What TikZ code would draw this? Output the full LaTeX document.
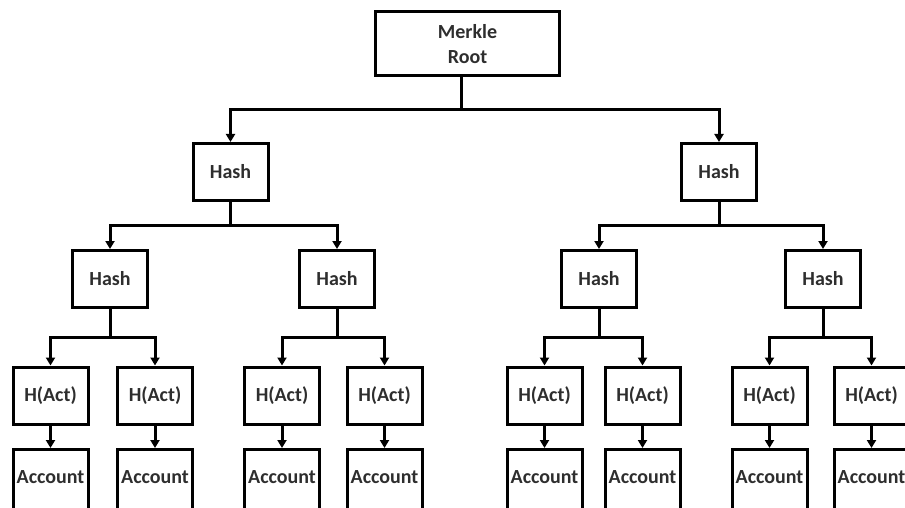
\documentclass[tikz,border=0pt]{standalone}
\usepackage{fontspec}
\setmainfont{Carlito}
\usetikzlibrary{arrows.meta,calc}
\begin{document}
\begin{tikzpicture}[x=1pt,y=-1pt,
  box/.style={draw=black,line width=3pt,rectangle,inner sep=0pt,
    minimum width=75pt,minimum height=57pt,text=black!82,
    font=\fontsize{20}{25}\selectfont\bfseries,align=center},
  rootbox/.style={box,minimum width=184pt,minimum height=64pt},
  accbox/.style={box,minimum height=80pt,text depth=25pt},
  arr/.style={line width=3pt,-{Triangle[width=9pt,length=8pt]}}]
\useasboundingbox (0,0) rectangle (905,508);
\fill[white] (0,0) rectangle (905,508);
\clip (0,0) rectangle (905,508);
% nodes
\node[rootbox] (root) at (467.5,44) {Merkle\\Root};
\node[box] (h1L) at (230.5,172) {Hash};
\node[box] (h1R) at (719,172) {Hash};
\node[box] (h2a) at (110,279) {Hash};
\node[box] (h2b) at (337,279) {Hash};
\node[box] (h2c) at (599,279) {Hash};
\node[box] (h2d) at (823,279) {Hash};
\foreach \n/\x in {1/50.5,2/155,3/282,4/384.5,5/544.5,6/642.5,7/769.5,8/871.5}{
  \node[box] (a\n) at (\x,395.5) {H(Act)};
  \node[accbox] (c\n) at (\x,489.5) {Account};
  \draw[arr] (a\n.south) -- (c\n.north);
}
% connectors
\coordinate (rs) at ([xshift=-6.5pt]root.south);
\foreach \p/\c in {rs/h1L,rs/h1R,h1L/h2a,h1L/h2b,h1R/h2c,h1R/h2d,
  h2a/a1,h2a/a2,h2b/a3,h2b/a4,h2c/a5,h2c/a6,h2d/a7,h2d/a8}{
  \draw[arr] (\p.south) |- ($(\p.south)!0.5!(\c.north)$) -| (\c.north);
}
\end{tikzpicture}
\end{document}
